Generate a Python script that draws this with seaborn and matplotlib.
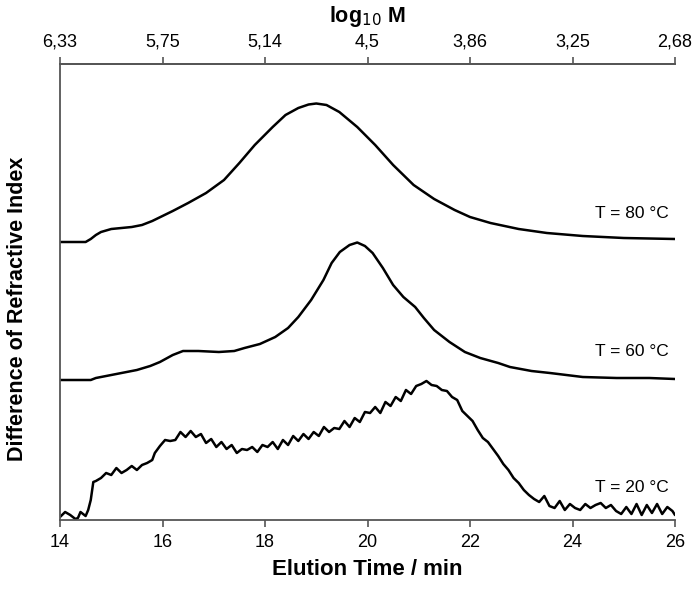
import matplotlib
matplotlib.use("Agg")
import matplotlib.pyplot as plt
import seaborn as sns
import pandas as pd

# ---- data (y in arbitrary detector units, baseline offsets included) ----
x_ticks = [14, 16, 18, 20, 22, 24, 26]
top_tick_labels = ["6,33", "5,75", "5,14", "4,5", "3,86", "3,25", "2,68"]

t80 = [14.0, 14.5, 14.6, 14.7, 14.8, 15.0, 15.2, 15.4, 15.6, 15.8, 16.0, 16.2, 16.5,
       16.85, 17.2, 17.5, 17.8, 18.15, 18.4, 18.65, 18.85, 19.0, 19.2, 19.45, 19.8,
       20.15, 20.5, 20.9, 21.3, 21.7, 22.0, 22.4, 22.95, 23.5, 24.2, 25.0, 26.0]
y80_px = [242, 242, 239, 235, 232, 229, 228, 227, 225, 221, 216, 211, 203,
          193, 180, 163, 145, 127, 115, 108, 104.5, 103.5, 105, 112, 127,
          145, 165, 185, 199, 210, 217, 223, 229, 233, 236, 238, 239]

t60 = [14.0, 14.6, 14.7, 14.8, 15.1, 15.5, 15.76, 15.95, 16.2, 16.4, 16.7, 17.1, 17.4,
       17.6, 17.9, 18.2, 18.45, 18.65, 18.9, 19.14, 19.3, 19.46, 19.65, 19.8, 19.95,
       20.1, 20.3, 20.5, 20.7, 20.93, 21.1, 21.3, 21.6, 21.9, 22.2, 22.55, 22.78,
       23.2, 23.56, 24.2, 24.86, 25.5, 26.0]
y60_px = [380, 380, 378, 377, 374, 370, 366, 362, 355, 351, 351, 352, 351,
          348, 344, 337, 328, 317, 300, 280, 263, 252, 245, 242.5, 246,
          253, 268, 285, 297, 307, 318, 330, 342, 352, 358, 363, 367,
          371, 373, 377, 378, 378, 379]

t20 = [14.0, 14.1, 14.2, 14.3, 14.35, 14.4, 14.5, 14.55, 14.6, 14.65, 14.7, 14.8, 14.9,
       15.0, 15.1, 15.2, 15.3, 15.4, 15.5, 15.6, 15.7, 15.8, 15.85, 15.95, 16.05, 16.15,
       16.25, 16.35, 16.45, 16.55, 16.65, 16.75, 16.85, 16.95, 17.05, 17.15, 17.25, 17.35,
       17.45, 17.55, 17.65, 17.75, 17.85, 17.95, 18.05, 18.15, 18.25, 18.35, 18.45, 18.55,
       18.65, 18.75, 18.85, 18.95, 19.05, 19.15, 19.25, 19.35, 19.45, 19.55, 19.65, 19.75,
       19.85, 19.95, 20.05, 20.15, 20.25, 20.35, 20.45, 20.55, 20.65, 20.75, 20.85, 20.95,
       21.05, 21.15, 21.25, 21.35, 21.45, 21.55, 21.65, 21.75, 21.85, 21.95, 22.05, 22.15,
       22.25, 22.35, 22.45, 22.55, 22.65, 22.75, 22.85, 22.95, 23.05, 23.15, 23.25, 23.35,
       23.45, 23.55, 23.65, 23.75, 23.85, 23.95, 24.05, 24.15, 24.25, 24.35, 24.45, 24.55,
       24.65, 24.75, 24.85, 24.95, 25.05, 25.15, 25.25, 25.35, 25.45, 25.55, 25.65, 25.75,
       25.85, 25.95, 26.0]
y20_px = [517, 512, 515, 519, 518, 512, 516, 510, 500, 482, 481, 478, 473,
          475, 468, 473, 470, 466, 470, 465, 463, 460, 453, 446, 440, 441,
          440, 432, 437, 431, 437, 434, 443, 439, 447, 442, 449, 445,
          453, 449, 450, 447, 452, 445, 447, 442, 449, 440, 445, 436,
          441, 434, 439, 432, 436, 427, 432, 428, 429, 421, 427, 418,
          422, 412, 413, 407, 413, 402, 406, 397, 401, 390, 394, 386,
          384, 381, 385, 386, 390, 391, 397, 400, 411, 416, 421, 430,
          438, 442, 449, 456, 464, 470, 478, 483, 490, 495, 499, 502,
          496, 506, 508, 501, 510, 504, 508, 510, 504, 508, 505, 503,
          508, 505, 511, 514, 507, 514, 504, 515, 505, 513, 504, 514,
          507, 511, 515]

series_labels = ["T = 80 °C", "T = 60 °C", "T = 20 °C"]

BASE = 520
y80 = [BASE - v for v in y80_px]
y60 = [BASE - v for v in y60_px]
y20 = [BASE - v for v in y20_px]

df = pd.concat([
    pd.DataFrame({"t": t80, "ri": y80, "s": series_labels[0]}),
    pd.DataFrame({"t": t60, "ri": y60, "s": series_labels[1]}),
    pd.DataFrame({"t": t20, "ri": y20, "s": series_labels[2]}),
])

sns.set_theme(style="white")
plt.rcParams['font.family'] = ['Liberation Sans', 'DejaVu Sans']
plt.rcParams['text.color'] = 'black'
plt.rcParams['axes.labelcolor'] = 'black'
plt.rcParams['xtick.color'] = 'black'

fig = plt.figure(figsize=(6.93, 5.89), dpi=100)
ax = fig.add_axes([60/693, 69/589, 615/693, 456/589])

for lab in series_labels:
    sub = df[df["s"] == lab]
    sns.lineplot(data=sub, x="t", y="ri", ax=ax, color="black", lw=1.8,
                 estimator=None, sort=False, legend=False)

ax.set_xlim(14, 26)
ax.set_ylim(0, 456)
ax.set_yticks([])
ax.set_xticks(x_ticks)
ax.set_xticklabels([str(v) for v in x_ticks], fontsize=13)
ax.tick_params(axis="x", direction="out", length=5, width=1.2, color="#555555",
               labelcolor="black", pad=5, bottom=True)
ax.set_xlabel("Elution Time / min", fontsize=16, fontweight="bold", labelpad=6)
ax.set_ylabel("Difference of Refractive Index", fontsize=15.5, fontweight="bold")
ax.yaxis.set_label_coords(-0.052, 0.463)

for side in ["left", "bottom", "top"]:
    ax.spines[side].set_visible(True)
    ax.spines[side].set_color("#555555")
    ax.spines[side].set_linewidth(1.3)
ax.spines["right"].set_visible(False)

sec = ax.secondary_xaxis("top")
sec.set_xticks(x_ticks)
sec.set_xticklabels(top_tick_labels, fontsize=13)
sec.tick_params(axis="x", direction="out", length=5, width=1.2, color="#555555",
                labelcolor="black", pad=5)
sec.spines["top"].set_color("#555555")
sec.spines["top"].set_linewidth(1.3)
sec.set_xlabel("log$_{10}$ M", fontsize=15.5, fontweight="bold", labelpad=8)

label_y = [307, 168, 32]
for lab, yy in zip(series_labels, label_y):
    ax.text(25.88, yy, lab, ha="right", va="center", fontsize=12.5, color="black")

fig.savefig("out.png", dpi=100)
